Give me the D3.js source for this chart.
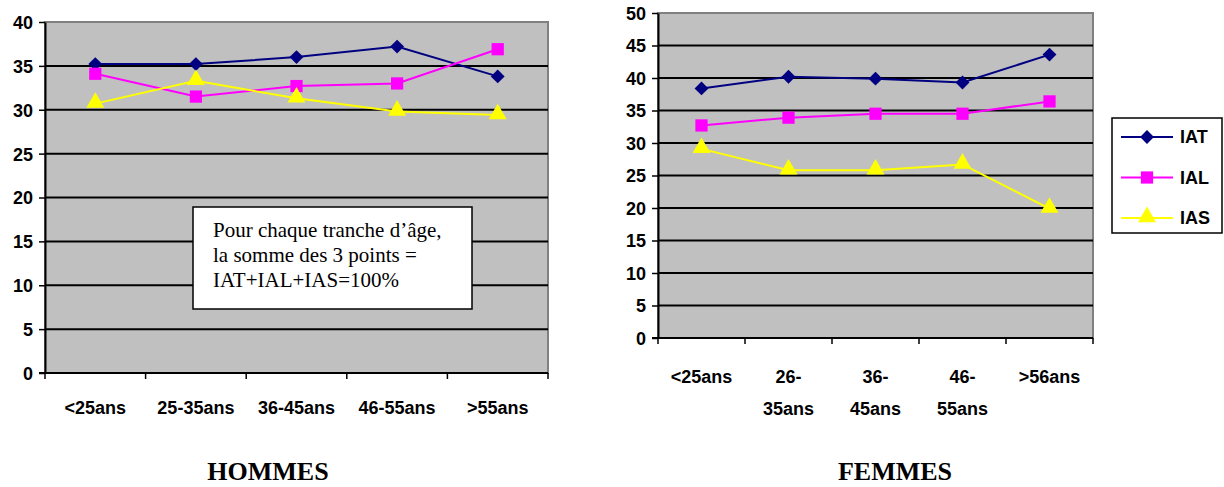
<!DOCTYPE html>
<html lang="fr">
<head>
<meta charset="utf-8">
<title>IAT / IAL / IAS par tranche d'âge</title>
<script src="https://cdn.jsdelivr.net/npm/d3@7"></script>
<style>
    html, body { margin: 0; padding: 0; background: #fff; }
    svg { display: block; }
    .tick-label { font-family: "Liberation Sans", Arial, sans-serif; font-weight: bold; font-size: 18px; fill: #000; }
    .chart-title { font-family: "Liberation Serif", "Times New Roman", serif; font-weight: bold; font-size: 26px; }
    .note { font-family: "Liberation Serif", "Times New Roman", serif; font-size: 21px; }
</style>
</head>
<body>
<div id="chart"></div>
<script>
// ---- data ----
const seriesNames = ["IAT", "IAL", "IAS"];
const seriesColors = ["#000080", "#ff00ff", "#ffff00"];

// Hommes
const hommesAges = [["<25ans"], ["25-35ans"], ["36-45ans"], ["46-55ans"], [">55ans"]];
const hommesIAT = [35.2, 35.2, 36.0, 37.2, 33.8];
const hommesIAL = [34.1, 31.5, 32.7, 33.0, 36.9];
const hommesIAS = [30.7, 33.3, 31.3, 29.8, 29.4];
const hommesTicks = [0, 5, 10, 15, 20, 25, 30, 35, 40];

// Femmes
const femmesAges = [["<25ans"], ["26-", "35ans"], ["36-", "45ans"], ["46-", "55ans"], [">56ans"]];
const femmesIAT = [38.4, 40.2, 39.9, 39.3, 43.6];
const femmesIAL = [32.7, 33.9, 34.5, 34.5, 36.4];
const femmesIAS = [29.1, 25.8, 25.8, 26.7, 19.9];
const femmesTicks = [0, 5, 10, 15, 20, 25, 30, 35, 40, 45, 50];

const noteLines = ["Pour chaque tranche d\u2019âge,", "la somme des 3 points =", "IAT+IAL+IAS=100%"];

const W = 1224, H = 487;

const svg = d3.select("#chart").append("svg")
    .attr("width", W)
    .attr("height", H);

// marker shapes: diamond = rotated square
function marker(g, i, color) {
    if (i === 0) {
        g.append("path")
            .attr("d", d3.symbol(d3.symbolSquare, 96)())
            .attr("transform", "rotate(45)")
            .attr("fill", color);
    } else if (i === 1) {
        g.append("path")
            .attr("d", d3.symbol(d3.symbolSquare, 150)())
            .attr("fill", color);
    } else {
        g.append("path")
            .attr("d", d3.symbol(d3.symbolTriangle, 140)())
            .attr("transform", "translate(0,-1)")
            .attr("fill", color);
    }
}

function drawChart(opt) {
    const g = svg.append("g");
    const { left, right, top, bottom } = opt;

    const x = d3.scaleBand()
        .domain(d3.range(opt.ages.length))
        .range([left, right])
        .padding(0);

    const y = d3.scaleLinear()
        .domain([0, d3.max(opt.ticks)])
        .range([bottom, top]);

    // plot background
    g.append("rect")
        .attr("x", left).attr("y", top)
        .attr("width", right - left).attr("height", bottom - top)
        .attr("fill", "#c0c0c0")
        .attr("stroke", "#808080")
        .attr("stroke-width", 2);

    // gridlines
    g.selectAll(".grid")
        .data(opt.ticks.filter(t => t > 0 && t < d3.max(opt.ticks)))
        .join("line")
        .attr("x1", left).attr("x2", right)
        .attr("y1", d => y(d)).attr("y2", d => y(d))
        .attr("stroke", "#000")
        .attr("stroke-width", 2);

    // y axis
    const yAxis = d3.axisLeft(y)
        .tickValues(opt.ticks)
        .tickSize(6)
        .tickPadding(6)
        .tickSizeOuter(0);
    const ya = g.append("g")
        .attr("transform", `translate(${left},0)`)
        .call(yAxis)
        .attr("font-family", null)
        .attr("font-size", null);
    ya.select(".domain").attr("stroke", "#000").attr("stroke-width", 2);
    ya.selectAll(".tick line").attr("stroke", "#000").attr("stroke-width", 1.5);
    ya.selectAll(".tick text").attr("class", "tick-label").attr("dy", "0.36em");

    // x axis line + ticks at category boundaries
    g.append("line")
        .attr("x1", left - 6).attr("x2", right)
        .attr("y1", bottom).attr("y2", bottom)
        .attr("stroke", "#000").attr("stroke-width", 2);

    const bounds = d3.range(opt.ages.length + 1)
        .map(i => i < opt.ages.length ? x(i) : x(i - 1) + x.bandwidth());
    g.selectAll(".xt")
        .data(bounds)
        .join("line")
        .attr("x1", d => d).attr("x2", d => d)
        .attr("y1", bottom).attr("y2", bottom + 6)
        .attr("stroke", "#000").attr("stroke-width", 1.5);

    // x labels
    const xl = g.selectAll(".xl")
        .data(opt.ages)
        .join("text")
        .attr("class", "tick-label")
        .attr("text-anchor", "middle")
        .attr("x", (d, i) => x(i) + x.bandwidth() / 2)
        .attr("y", opt.labelY);
    xl.selectAll("tspan")
        .data(d => d)
        .join("tspan")
        .attr("x", function () { return d3.select(this.parentNode).attr("x"); })
        .attr("dy", (d, i) => i === 0 ? 0 : 32)
        .text(d => d);

    // lines and markers
    const line = d3.line()
        .x((d, i) => x(i) + x.bandwidth() / 2)
        .y(d => y(d));

    opt.series.forEach((vals, si) => {
        g.append("path")
            .datum(vals)
            .attr("d", line)
            .attr("fill", "none")
            .attr("stroke", seriesColors[si])
            .attr("stroke-width", 2);
    });
    opt.series.forEach((vals, si) => {
        vals.forEach((v, i) => {
            const m = g.append("g")
                .attr("transform", `translate(${x(i) + x.bandwidth() / 2},${y(v)})`);
            marker(m, si, seriesColors[si]);
        });
    });

    // title under the chart
    g.append("text")
        .attr("class", "chart-title")
        .attr("text-anchor", "middle")
        .attr("x", opt.titleX)
        .attr("y", 480)
        .text(opt.title);

    return { x, y };
}

drawChart({
    left: 45, right: 548, top: 22, bottom: 373, labelY: 414,
    ages: hommesAges, ticks: hommesTicks,
    series: [hommesIAT, hommesIAL, hommesIAS],
    title: "HOMMES", titleX: 268
});

drawChart({
    left: 658, right: 1093, top: 13, bottom: 338, labelY: 383,
    ages: femmesAges, ticks: femmesTicks,
    series: [femmesIAT, femmesIAL, femmesIAS],
    title: "FEMMES", titleX: 895
});

// note box on the Hommes chart
const note = svg.append("g");
note.append("rect")
    .attr("x", 193).attr("y", 207)
    .attr("width", 279).attr("height", 102)
    .attr("fill", "#fff")
    .attr("stroke", "#000")
    .attr("stroke-width", 1.5);
note.selectAll("text")
    .data(noteLines)
    .join("text")
    .attr("class", "note")
    .attr("x", 213)
    .attr("y", (d, i) => 237 + i * 25)
    .text(d => d);

// legend
const legend = svg.append("g");
legend.append("rect")
    .attr("x", 1112).attr("y", 118)
    .attr("width", 110).attr("height", 115)
    .attr("fill", "#fff")
    .attr("stroke", "#000")
    .attr("stroke-width", 1.5);
seriesNames.forEach((name, i) => {
    const ly = 137 + i * 40.5;
    legend.append("line")
        .attr("x1", 1121).attr("x2", 1173)
        .attr("y1", ly).attr("y2", ly)
        .attr("stroke", seriesColors[i])
        .attr("stroke-width", 2);
    const m = legend.append("g").attr("transform", `translate(1147,${ly})`);
    marker(m, i, seriesColors[i]);
    legend.append("text")
        .attr("class", "tick-label")
        .attr("x", 1180)
        .attr("y", ly)
        .attr("dy", "0.36em")
        .text(name);
});
</script>
</body>
</html>
